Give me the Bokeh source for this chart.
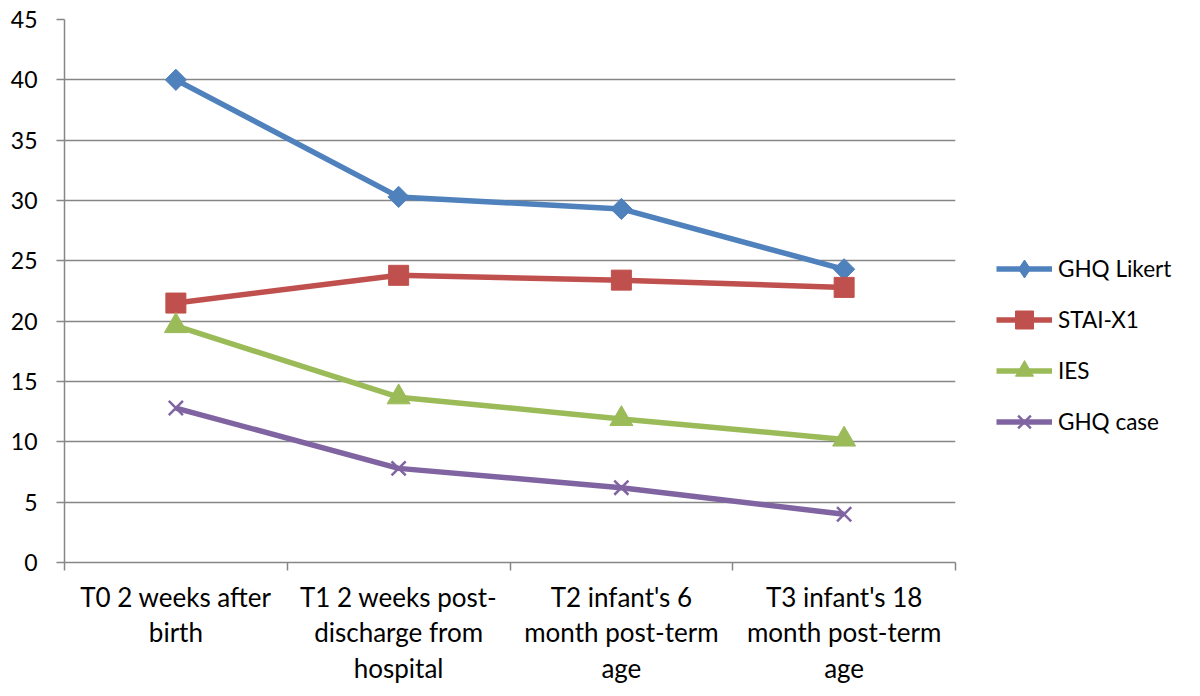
import math
from bokeh.plotting import figure
from bokeh.models import FixedTicker, Legend, LegendItem, Range1d
from bokeh.embed import file_html
from bokeh.resources import INLINE

categories = ["T0 2 weeks after\nbirth",
              "T1 2 weeks post-\ndischarge from\nhospital",
              "T2 infant's 6\nmonth post-term\nage",
              "T3 infant's 18\nmonth post-term\nage"]
ghq_likert = [40.0, 30.3, 29.3, 24.3]
stai_x1 = [21.5, 23.8, 23.4, 22.8]
ies = [19.6, 13.7, 11.9, 10.2]
ghq_case = [12.8, 7.8, 6.2, 4.0]
y_ticks = [0, 5, 10, 15, 20, 25, 30, 35, 40, 45]

xs = [1, 2, 3, 4]
FONT = "Lato"
GRAY = "#868686"
LW = 5.5

p = figure(frame_width=891, frame_height=543, output_backend="svg", toolbar_location=None,
           x_range=Range1d(0.5, 4.5), y_range=Range1d(0, 45),
           min_border_left=64, min_border_top=19, min_border_bottom=118,
           min_border_right=10)
p.outline_line_color = None
p.xgrid.visible = False
p.ygrid.grid_line_color = GRAY
p.ygrid.grid_line_width = 1.5
p.ygrid.ticker = FixedTicker(ticks=y_ticks)

p.yaxis.ticker = FixedTicker(ticks=y_ticks)
p.yaxis.axis_line_color = GRAY
p.yaxis.axis_line_width = 1.5
p.yaxis.major_tick_line_color = GRAY
p.yaxis.major_tick_line_width = 1.5
p.yaxis.major_tick_out = 8
p.yaxis.major_tick_in = 0
p.yaxis.minor_tick_line_color = None
p.yaxis.major_label_text_font = FONT
p.yaxis.major_label_text_font_size = "23px"
p.yaxis.major_label_text_color = "#000000"
p.yaxis.major_label_standoff = 19

p.xaxis.ticker = FixedTicker(ticks=xs, minor_ticks=[0.5, 1.5, 2.5, 3.5, 4.5])
p.xaxis.major_label_overrides = {x: c for x, c in zip(xs, categories)}
p.xaxis.axis_line_color = GRAY
p.xaxis.axis_line_width = 1.5
p.xaxis.major_tick_line_color = None
p.xaxis.minor_tick_line_color = GRAY
p.xaxis.minor_tick_line_width = 1.5
p.xaxis.minor_tick_out = 8
p.xaxis.minor_tick_in = 0
p.xaxis.major_label_text_font = FONT
p.xaxis.major_label_text_font_size = "26px"
p.xaxis.major_label_text_color = "#000000"
p.xaxis.major_label_standoff = 10
p.xaxis.major_label_text_line_height = 1.12

items = []
# GHQ Likert: plot marker is a rotated square; the legend uses a diamond drawn beneath it
l1 = p.line(xs, ghq_likert, line_color="#4F81BD", line_width=LW)
proxy = p.scatter(xs, ghq_likert, marker="diamond", size=18,
                  fill_color="#4F81BD", line_color="#4F81BD")
p.scatter(xs, ghq_likert, marker="square", angle=math.pi / 4, size=15,
          fill_color="#4F81BD", line_color="#4F81BD")
items.append(LegendItem(label="GHQ Likert", renderers=[l1, proxy]))

series = [
    ("STAI-X1", stai_x1, "#C0504D", "square", 20),
    ("IES", ies, "#9BBB59", "triangle", 23),
    ("GHQ case", ghq_case, "#8064A2", "x", 20),
]
for name, vals, col, mk, sz in series:
    l = p.line(xs, vals, line_color=col, line_width=LW)
    if mk == "x":
        s = p.scatter(xs, vals, marker="x", size=sz, line_color=col, line_width=2.5)
    else:
        s = p.scatter(xs, vals, marker=mk, size=sz, fill_color=col, line_color=col)
    items.append(LegendItem(label=name, renderers=[l, s]))

legend = Legend(items=items, location=(41, 118), glyph_width=56, glyph_height=45,
                label_height=20, spacing=6, padding=0, margin=0,
                label_standoff=6, border_line_color=None,
                background_fill_alpha=0, label_text_font=FONT,
                label_text_font_size="22.5px", label_text_color="#000000")
p.add_layout(legend, "right")

open("out.html", "w").write(file_html(p, INLINE))
